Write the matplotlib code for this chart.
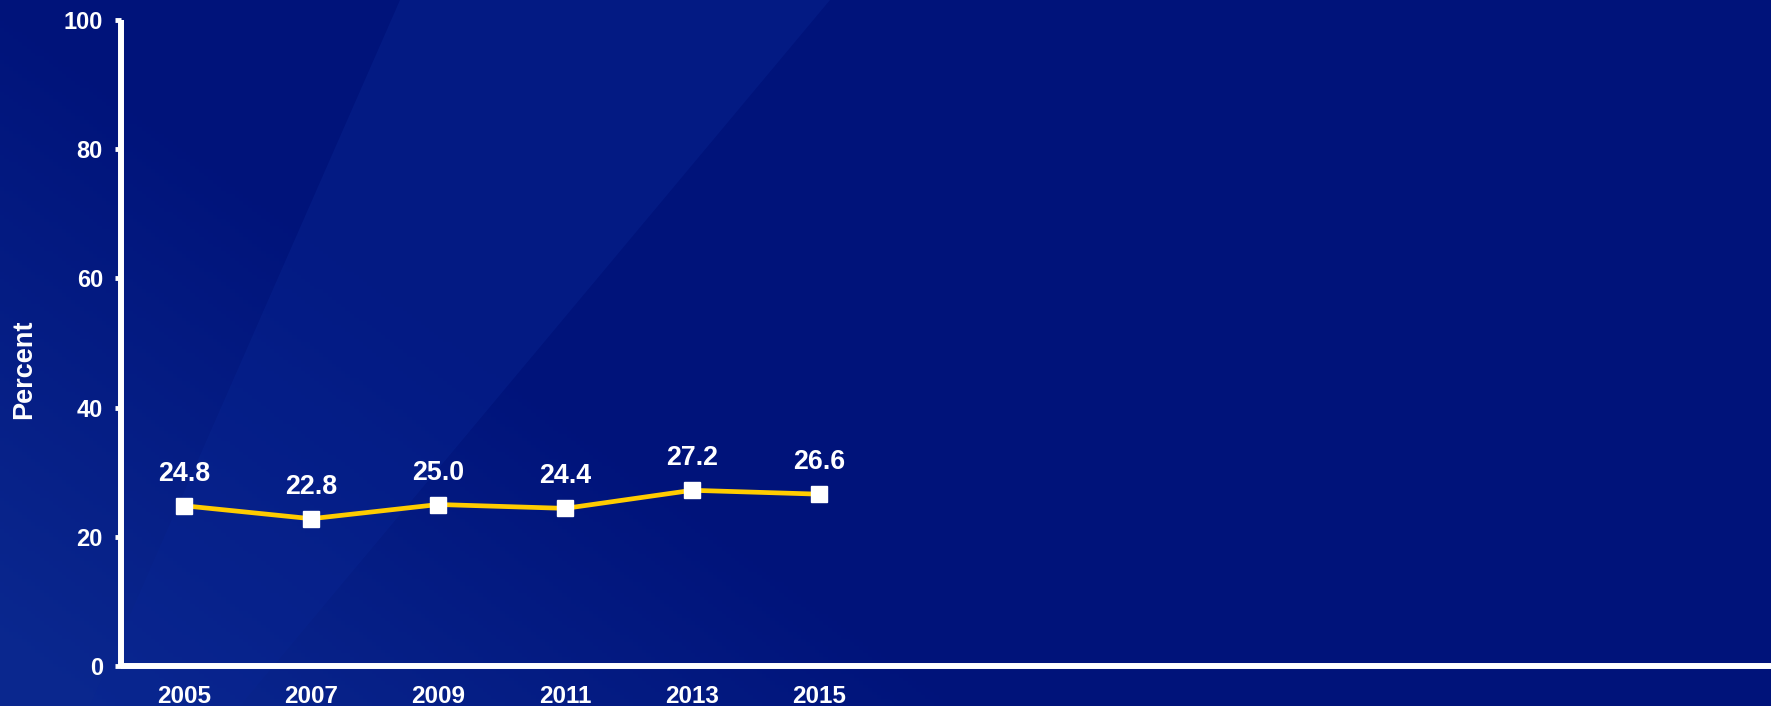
import matplotlib
matplotlib.use("Agg")
import matplotlib.pyplot as plt
import numpy as np
from matplotlib.patches import Polygon

plt.rcParams["font.family"] = ["Liberation Sans", "DejaVu Sans"]
plt.rcParams["font.weight"] = "bold"

# survey years and percentages
years = ["2005", "2007", "2009", "2011", "2013", "2015"]
percent = [24.8, 22.8, 25.0, 24.4, 27.2, 26.6]
n_slots = 13  # category slots on the x axis (only the first six are used)
y_ticks = [0, 20, 40, 60, 80, 100]

W, H, DPI = 1771, 706, 100
fig = plt.figure(figsize=(W / DPI, H / DPI), dpi=DPI)

# navy background, a bit lighter toward the bottom left, with a soft diagonal band
bg = fig.add_axes([0, 0, 1, 1])
bg.set_xlim(0, W)
bg.set_ylim(H, 0)
bg.axis("off")
xx = np.linspace(0, 1, 400)
yy = np.linspace(0, 1, 200)
X, Y = np.meshgrid(xx, yy)
glow = np.clip(Y * 1.1 - X * 2.0, 0, 1)
base = np.zeros((200, 400, 3))
base[..., 0] = 0.0 + 0.04 * glow
base[..., 1] = 0.075 + 0.08 * glow
base[..., 2] = 0.48 + 0.08 * glow
bg.imshow(base, extent=[0, W, H, 0], aspect="auto", zorder=0)
bg.add_patch(Polygon([[400, 0], [830, 0], [240, H], [90, H]],
                     closed=True, facecolor="#082592", alpha=0.4,
                     edgecolor="none", zorder=1))

ax = fig.add_axes([121 / W, 1 - 666 / H, (W - 121) / W, (666 - 20) / H])
ax.patch.set_alpha(0)

x = np.arange(len(years))
ax.plot(x, percent, color="#FFCC00", lw=3.4, marker="s", markersize=11,
        markerfacecolor="white", markeredgecolor="white", zorder=3)
for xi, v in zip(x, percent):
    ax.annotate(f"{v:.1f}", (xi, v), xytext=(0, 23), textcoords="offset points",
                ha="center", va="center", color="white", fontsize=19.3,
                fontweight="bold")

ax.set_xlim(-0.5, n_slots - 0.5)
ax.set_ylim(0, 100)
ax.set_xticks(x)
ax.set_xticklabels(years)
ax.set_yticks(y_ticks)

for side in ["top", "right"]:
    ax.spines[side].set_visible(False)
for side in ["left", "bottom"]:
    ax.spines[side].set_color("white")
    ax.spines[side].set_linewidth(4.3)
    ax.spines[side].set_capstyle("butt")

ax.tick_params(axis="y", colors="white", length=4, width=3.5, pad=9,
               labelsize=17)
ax.tick_params(axis="x", colors="white", length=0, pad=14, labelsize=17.5)
for lbl in ax.get_xticklabels() + ax.get_yticklabels():
    lbl.set_fontweight("bold")

ax.set_ylabel("Percent", color="white", fontsize=19.5, fontweight="bold")
ax.yaxis.set_label_coords(-84 / (W - 121), 0.46)

fig.savefig("out.png", dpi=DPI)
